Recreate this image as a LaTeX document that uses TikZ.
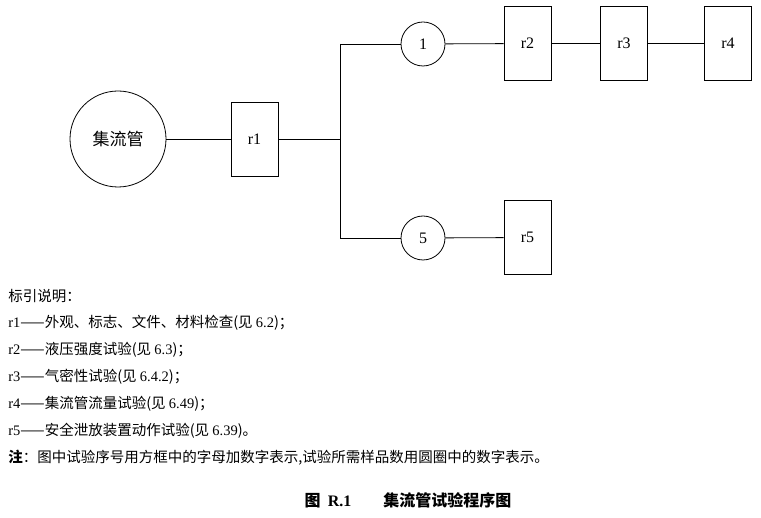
\documentclass[tikz,border=0pt]{standalone}
\usepackage{fontspec}
\setmainfont{Liberation Serif}
\newfontfamily\cjk{Noto Sans CJK SC}
\begin{document}
\begin{tikzpicture}[x=1pt,y=-1pt,
  box/.style={draw,minimum width=47pt,minimum height=74pt,inner sep=0pt,font=\fontsize{16}{18}\selectfont},
  circ/.style={draw,circle,inner sep=0pt,font=\fontsize{16}{18}\selectfont},
  leg/.style={anchor=west,inner sep=0pt,font=\cjk\fontsize{14.5}{16}\selectfont},
  line width=0.8pt]
\useasboundingbox (0,0) rectangle (761,518);
\node[circ,minimum size=96pt,font=\cjk\fontsize{17}{19}\selectfont] (c) at (118,139) {集流管};
\node[box] (r1) at (254.5,139) {r1};
\coordinate (j) at (340,139);
\coordinate (jt) at (340,44);
\coordinate (jb) at (340,238);
\node[circ,minimum size=44pt] (c1) at (423,44) {1};
\node[circ,minimum size=44pt] (c5) at (423,238) {5};
\node[box] (r2) at (527.5,43.5) {r2};
\node[box] (r3) at (624,43.5) {r3};
\node[box] (r4) at (728,43.5) {r4};
\node[box] (r5) at (527.5,237.5) {r5};
\draw (c) -- (r1); \draw (r1) -- (j);
\draw (jt) -- (jb);
\draw (jt) -- (c1); \draw (c1) -- (r2); \draw (r2) -- (r3); \draw (r3) -- (r4);
\draw (jb) -- (c5); \draw (c5) -- (r5);
\node[leg] (l0) at (8,296) {标引说明：};
\node[leg] (l1) at (8,323) {\rmfamily r1\cjk——外观、标志、文件、材料检查(见 \rmfamily 6.2\cjk)；};
\node[leg] (l2) at (8,350) {\rmfamily r2\cjk——液压强度试验(见 \rmfamily 6.3\cjk)；};
\node[leg] (l3) at (8,377) {\rmfamily r3\cjk——气密性试验(见 \rmfamily 6.4.2\cjk)；};
\node[leg] (l4) at (8,404) {\rmfamily r4\cjk——集流管流量试验(见 \rmfamily 6.49\cjk)；};
\node[leg] (l5) at (8,431) {\rmfamily r5\cjk——安全泄放装置动作试验(见 \rmfamily 6.39\cjk)。};
\node[leg] (l6) at (8,458) {\textbf{注}：图中试验序号用方框中的字母加数字表示,试验所需样品数用圆圈中的数字表示。};
\node[inner sep=0pt,font=\cjk\bfseries\fontsize{16}{18}\selectfont] (cap) at (408,500) {图\ \ \rmfamily\textbf{R.1}\quad\quad\cjk\bfseries 集流管试验程序图};
\end{tikzpicture}
\end{document}
